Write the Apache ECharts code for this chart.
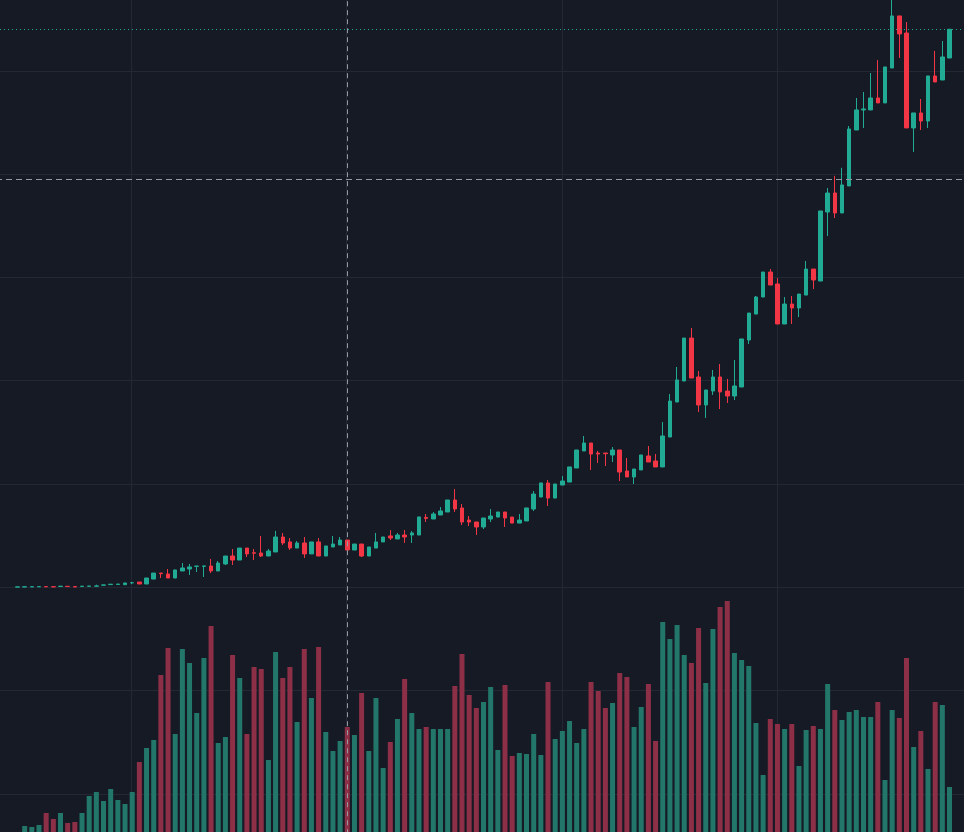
<!DOCTYPE html>
<html>
<head>
<meta charset="utf-8">
<style>
  html, body { margin: 0; padding: 0; background: #161a25; }
  #chart { width: 964px; height: 832px; }
</style>
<script src="https://cdn.jsdelivr.net/npm/echarts@6/dist/echarts.min.js"></script>
</head>
<body>
<div id="chart"></div>
<script>
// candles: [open, close, low, high]
const ohlc = [
  [2, 4, 2, 4], [3, 5, 3, 5], [4, 6, 4, 6], [5, 7, 5, 7], [7, 5, 5, 7],
  [6, 4, 4, 6], [8, 11, 8, 11], [10, 7, 7, 10], [7, 3, 3, 7], [8, 11, 8, 11],
  [10, 12, 10, 12], [11, 13, 11, 25], [20, 23, 20, 23], [26, 30, 26, 30], [28, 31, 28, 31],
  [25, 42, 25, 42], [43, 45, 30, 52], [51, 32, 32, 51], [32, 90, 32, 90], [80, 138, 80, 138],
  [138, 132, 90, 138], [129, 90, 90, 177], [90, 168, 90, 168], [158, 187, 158, 235], [177, 197, 119, 226],
  [203, 206, 148, 206], [203, 207, 100, 207], [206, 158, 138, 274], [158, 235, 158, 255], [226, 303, 216, 303],
  [303, 264, 216, 371], [264, 380, 264, 380], [380, 323, 293, 380], [335, 330, 264, 371], [332, 303, 293, 497],
  [303, 351, 303, 371], [342, 487, 342, 546], [487, 429, 410, 526], [439, 380, 361, 477], [380, 429, 380, 448],
  [429, 323, 284, 487], [323, 439, 323, 439], [439, 303, 303, 477], [303, 400, 303, 400], [390, 419, 390, 497],
  [410, 458, 410, 487], [458, 361, 361, 458], [361, 419, 361, 419], [419, 303, 293, 419], [303, 390, 303, 390],
  [380, 439, 380, 526], [439, 487, 439, 487], [497, 477, 458, 555], [468, 506, 468, 526], [506, 487, 429, 555],
  [506, 526, 429, 545], [506, 681, 506, 681], [677, 667, 632, 710], [661, 710, 661, 729], [700, 739, 700, 777],
  [729, 845, 729, 845], [845, 758, 729, 952], [768, 632, 603, 806], [651, 632, 593, 690], [632, 584, 506, 632],
  [584, 671, 564, 671], [661, 690, 632, 758], [680, 729, 680, 729], [729, 671, 584, 729], [680, 622, 622, 680],
  [622, 651, 622, 710], [642, 768, 642, 768], [758, 903, 739, 932], [874, 1010, 874, 1010], [1010, 864, 787, 1039],
  [864, 1000, 864, 1000], [990, 1029, 990, 1077], [1019, 1165, 1019, 1165], [1155, 1329, 1155, 1329], [1320, 1397, 1320, 1465],
  [1397, 1290, 1136, 1397], [1300, 1290, 1203, 1320], [1300, 1293, 1174, 1300], [1281, 1329, 1213, 1358], [1329, 1116, 1029, 1329],
  [1126, 1068, 1068, 1252], [1068, 1145, 1000, 1145], [1136, 1281, 1136, 1281], [1271, 1213, 1213, 1368], [1223, 1165, 1165, 1290],
  [1165, 1465, 1165, 1600], [1455, 1803, 1455, 1871], [1794, 2007, 1794, 2133], [1997, 2413, 1997, 2413], [2413, 2026, 2026, 2510],
  [2036, 1765, 1697, 2094], [1765, 1910, 1639, 1910], [1900, 2036, 1862, 2104], [2036, 1891, 1726, 2162], [1900, 1852, 1784, 2017],
  [1852, 1949, 1813, 2201], [1939, 2404, 1939, 2404], [2394, 2655, 2355, 2655], [2645, 2810, 2645, 2820], [2810, 3052, 2810, 3052],
  [3052, 2926, 2926, 3081], [2936, 2549, 2549, 2994], [2549, 2742, 2549, 2810], [2742, 2704, 2549, 2820], [2704, 2839, 2616, 2839],
  [2829, 3081, 2829, 3159], [3081, 2975, 2888, 3081], [2965, 3643, 2965, 3643], [3633, 3817, 3401, 3866], [3817, 3624, 3575, 3983],
  [3624, 3895, 3624, 4061], [3885, 4437, 3885, 4466], [4427, 4621, 4427, 4737], [4621, 4631, 4446, 4795], [4621, 4737, 4621, 4979],
  [4737, 4689, 4689, 5104], [4689, 5037, 4689, 5037], [5027, 5531, 5027, 5700], [5531, 5357, 5124, 5531], [5366, 4447, 4447, 5472],
  [4447, 4592, 4215, 4592], [4592, 4514, 4427, 4727], [4514, 4950, 4446, 4950], [4950, 4892, 4892, 5192], [4911, 5134, 4911, 5289],
  [5124, 5402, 5124, 5402]
];

const volumes = [
  0, 600, 500, 700, 1900, 1300, 1900, 900, 1000, 1900,
  3600, 4000, 3100, 4300, 3200, 2800, 4000, 7000, 8400, 9200,
  15700, 18400, 9800, 18300, 16900, 11900, 17400, 20600, 8900, 9500,
  17700, 15400, 9800, 16500, 16300, 7200, 18000, 15400, 16500, 11000,
  18300, 13400, 18500, 10000, 8100, 9100, 10500, 9700, 13900, 8100,
  13400, 6400, 9000, 11300, 15300, 11900, 10300, 10500, 10300, 10300,
  10300, 14600, 17800, 13700, 12400, 13000, 14500, 8200, 14700, 7600,
  7900, 7800, 9800, 7700, 15000, 9300, 10100, 11100, 8900, 10300,
  15000, 14100, 12400, 12900, 15900, 15500, 10500, 12500, 14800, 9100,
  21000, 19300, 20700, 17700, 16900, 20400, 14900, 20300, 22500, 23100,
  17900, 17200, 16600, 10900, 5700, 11300, 10800, 10300, 10800, 6600,
  10200, 10600, 10300, 14800, 12200, 11200, 12000, 12200, 11500, 11500,
  13000, 5200, 12200, 11400, 17400, 8500, 10100, 6300, 13000, 12700,
  4500
];

// weekly bars
const dates = [];
const start = new Date(Date.UTC(2016, 0, 4));
for (let i = 0; i < ohlc.length; i++) {
  const d = new Date(start.getTime() + i * 7 * 86400000);
  dates.push(d.toISOString().slice(0, 10));
}

const crosshairIndex = 46;
const crosshairPrice = 3950;
const lastClose = ohlc[ohlc.length - 1][1];

const upColor = '#22ab94';
const downColor = '#f23645';
const volUp = '#22766a';
const volDown = '#8e2f48';
const gridColor = '#242835';
const crossColor = '#9598a1';

const chart = echarts.init(document.getElementById('chart'), null, { renderer: 'canvas' });

const hiddenAxis = {
  axisLabel: { show: false },
  axisLine: { show: false },
  axisTick: { show: false },
  splitLine: { show: false }
};

chart.setOption({
  backgroundColor: '#161a25',
  animation: false,
  grid: [
    // background grid lines
    { left: -84, width: 1076.7, top: -32.5, height: 929.7, outerBoundsMode: 'none' },
    // price
    { left: 13.9, width: 939.2, top: -32.5, height: 929.7, outerBoundsMode: 'none' },
    // volume
    { left: 13.9, width: 939.2, top: 520, height: 312, outerBoundsMode: 'none' }
  ],
  xAxis: [
    {
      gridIndex: 0, type: 'value', min: 0, max: 5, interval: 1,
      axisLabel: { show: false }, axisLine: { show: false }, axisTick: { show: false },
      splitLine: { show: true, lineStyle: { color: gridColor, width: 1 } }
    },
    Object.assign({ gridIndex: 1, type: 'category', data: dates, boundaryGap: true }, hiddenAxis),
    Object.assign({ gridIndex: 2, type: 'category', data: dates, boundaryGap: true }, hiddenAxis)
  ],
  yAxis: [
    {
      gridIndex: 0, type: 'value', min: -3000, max: 6000, interval: 1000,
      axisLabel: { show: false }, axisLine: { show: false }, axisTick: { show: false },
      splitLine: { show: true, lineStyle: { color: gridColor, width: 1 } }
    },
    Object.assign({ gridIndex: 1, type: 'value', min: -3000, max: 6000 }, hiddenAxis),
    Object.assign({ gridIndex: 2, type: 'value', min: 0, max: 31200 }, hiddenAxis)
  ],
  series: [
    {
      name: 'guides',
      type: 'line',
      xAxisIndex: 0,
      yAxisIndex: 0,
      data: [],
      silent: true,
      markLine: {
        silent: true,
        symbol: ['none', 'none'],
        label: { show: false },
        animation: false,
        data: [
          { yAxis: lastClose, lineStyle: { color: upColor, type: [1, 3], width: 1 } },
          { yAxis: crosshairPrice, lineStyle: { color: crossColor, type: [6, 4], width: 1 } }
        ]
      }
    },
    {
      name: 'price',
      type: 'candlestick',
      xAxisIndex: 1,
      yAxisIndex: 1,
      data: ohlc,
      barWidth: 4,
      itemStyle: {
        color: upColor,
        color0: downColor,
        borderColor: upColor,
        borderColor0: downColor,
        borderWidth: 1
      },
      markLine: {
        silent: true,
        symbol: ['none', 'none'],
        label: { show: false },
        animation: false,
        lineStyle: { color: crossColor, type: [5, 4], width: 1 },
        data: [{ xAxis: crosshairIndex }]
      }
    },
    {
      name: 'volume',
      type: 'bar',
      xAxisIndex: 2,
      yAxisIndex: 2,
      barWidth: 5,
      data: volumes.map((v, i) => ({
        value: v,
        itemStyle: { color: ohlc[i][1] >= ohlc[i][0] ? volUp : volDown }
      }))
    }
  ]
});
</script>
</body>
</html>
